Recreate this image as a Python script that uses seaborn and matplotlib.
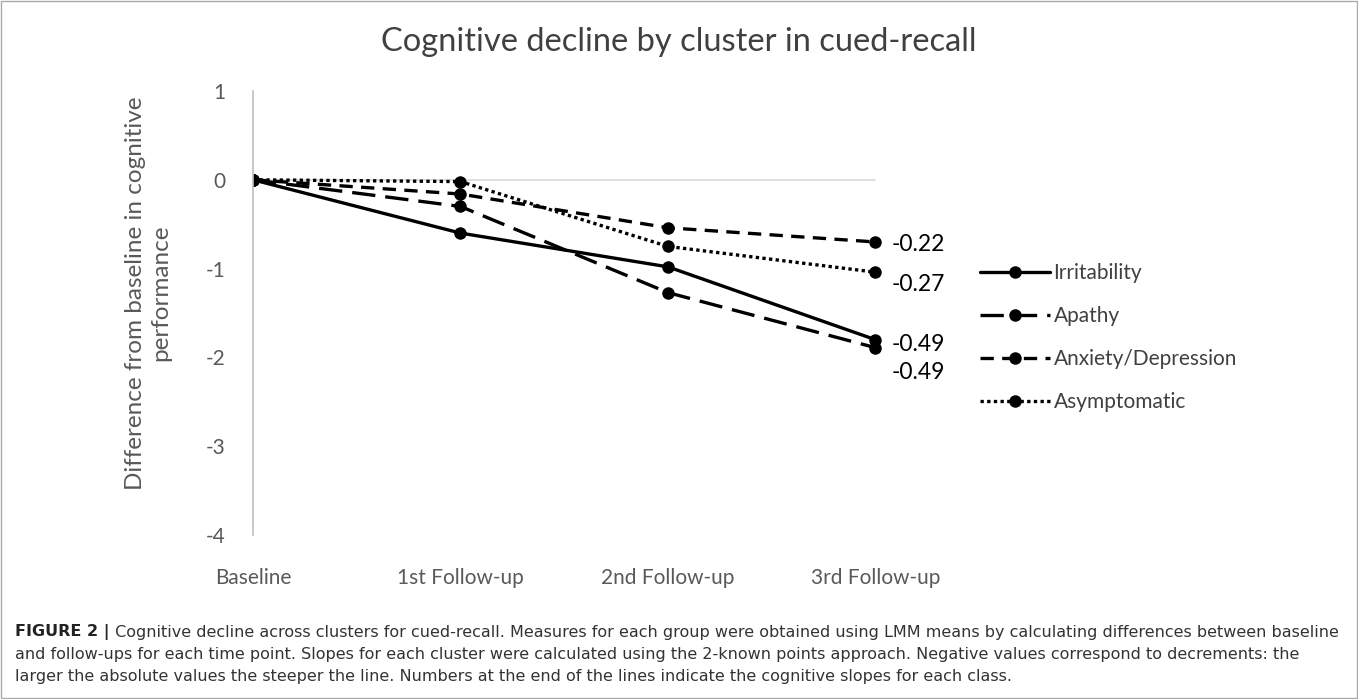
# ============================================================
# IMPORT LIBRARIES
# ============================================================

import numpy as np
import pandas as pd
import matplotlib
matplotlib.use("Agg")
import matplotlib.pyplot as plt
import seaborn as sns

# ============================================================
# DATA
# ============================================================

time_points = ["Baseline", "1st Follow-up", "2nd Follow-up", "3rd Follow-up"]

clusters = ["Irritability", "Apathy", "Anxiety/Depression", "Asymptomatic"]

irritability = [0.0, -0.60, -0.98, -1.80]
apathy = [0.0, -0.30, -1.27, -1.89]
anxiety_depression = [0.0, -0.16, -0.54, -0.70]
asymptomatic = [0.0, -0.02, -0.75, -1.04]

slopes = ["-0.22", "-0.27", "-0.49", "-0.49"]

y_ticks = [1, 0, -1, -2, -3, -4]

# ============================================================
# LONG TABLE
# ============================================================

rows = []
for name, vals in zip(clusters, [irritability, apathy, anxiety_depression, asymptomatic]):
    for i, v in enumerate(vals):
        rows.append({"time": i, "value": v, "cluster": name})
df = pd.DataFrame(rows)

# ============================================================
# FIGURE
# ============================================================

sns.set_style("white")
plt.rcParams["font.family"] = ["Lato", "DejaVu Sans"]

fig = plt.figure(figsize=(13.58, 6.99), dpi=100)

ax = fig.add_axes([253 / 1358, 164 / 699, (979 - 253) / 1358, 444 / 699])

dash_map = {
    "Irritability": "",
    "Apathy": (7, 3),
    "Anxiety/Depression": (4, 2.5),
    "Asymptomatic": (1, 1),
}

sns.lineplot(
    data=df,
    x="time",
    y="value",
    style="cluster",
    style_order=clusters,
    dashes=dash_map,
    markers={c: "o" for c in clusters},
    color="black",
    linewidth=2.4,
    markersize=9,
    markeredgewidth=0,
    ax=ax,
)

ax.set_xlim(0, 3.5)
ax.set_ylim(-4, 1)

for s in ["top", "right", "bottom"]:
    ax.spines[s].set_visible(False)
ax.spines["left"].set_color("#bfbfbf")
ax.spines["left"].set_linewidth(1.2)
ax.axhline(0, xmax=3 / 3.5, color="#d9d9d9", lw=1.2, zorder=0)

ax.set_yticks(y_ticks)
ax.set_yticklabels([str(t) for t in y_ticks])
ax.set_xticks(range(len(time_points)))
ax.set_xticklabels(time_points)
ax.tick_params(axis="both", length=0, labelsize=15, colors="#595959")
ax.tick_params(axis="y", pad=20)
ax.tick_params(axis="x", pad=24)

ax.set_xlabel("")
ax.set_ylabel("Difference from baseline in cognitive\nperformance",
              fontsize=17.5, color="#595959", linespacing=1.25)
ax.yaxis.set_label_coords(-0.113, 0.545)

fig.text(0.5, 1 - 42 / 699, "Cognitive decline by cluster in cued-recall",
         fontsize=23.5, color="#404040", ha="center", va="center")

# slope labels at the end of the lines
label_y = [-0.73, -1.18, -1.85, -2.17]
for txt, yy in zip(slopes, label_y):
    ax.text(3.08, yy, txt, fontsize=16.5, color="black", va="center", ha="left")

# ============================================================
# LEGEND
# ============================================================

leg = ax.legend(
    loc="center left",
    bbox_to_anchor=(0.975, 0.445),
    frameon=False,
    fontsize=15,
    handlelength=3.4,
    handletextpad=0.15,
    labelspacing=1.1,
)
for t in leg.get_texts():
    t.set_color("#404040")

# ============================================================
# CAPTION AND BORDER
# ============================================================

fig.add_artist(plt.Rectangle((0.001, 0.001), 0.998, 0.998, transform=fig.transFigure,
                             fill=False, edgecolor="#aaaaaa", lw=1))

cap_font = ["Liberation Sans Narrow", "DejaVu Sans"]
t1 = fig.text(15 / 1358, 1 - 632 / 699, "FIGURE 2 |", fontsize=11.5,
              fontweight="bold", family=cap_font, va="center", color="#222222")
ax.annotate(
    " Cognitive decline across clusters for cued-recall. Measures for each group were obtained using LMM means by calculating differences between baseline",
    xy=(1, 0.5), xycoords=t1, va="center", fontsize=11.5, family=cap_font,
    color="#333333", annotation_clip=False,
)
fig.text(15 / 1358, 1 - 655 / 699,
         "and follow-ups for each time point. Slopes for each cluster were calculated using the 2-known points approach. Negative values correspond to decrements: the",
         fontsize=11.5, family=cap_font, va="center", color="#333333")
fig.text(15 / 1358, 1 - 677 / 699,
         "larger the absolute values the steeper the line. Numbers at the end of the lines indicate the cognitive slopes for each class.",
         fontsize=11.5, family=cap_font, va="center", color="#333333")

plt.savefig("out.png", dpi=100)
